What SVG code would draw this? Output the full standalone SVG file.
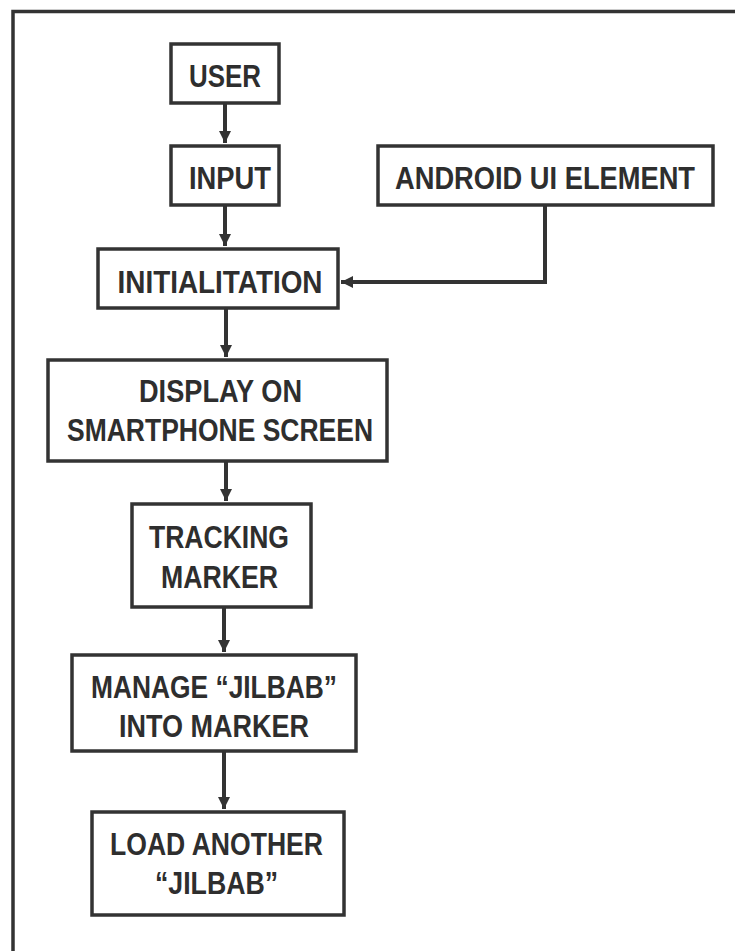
<svg xmlns="http://www.w3.org/2000/svg" width="735" height="951" viewBox="0 0 735 951">
<style>
.box{fill:#fff;stroke:#333;stroke-width:3.5}
.t{font-family:"Liberation Sans",Arial,sans-serif;font-weight:bold;font-size:32px;fill:#2e2e2e;text-anchor:middle}
.c{fill:none;stroke:#333;stroke-width:4}
</style>
<defs>
<marker id="ah" viewBox="0 0 10 10" refX="10" refY="5" markerWidth="3" markerHeight="3" orient="auto" markerUnits="strokeWidth">
<path d="M0,0 L10,5 L0,10 z" fill="#333"/>
</marker>
</defs>
<rect width="735" height="951" fill="#fff"/>
<path d="M740 11.5 H13 V951" fill="none" stroke="#333" stroke-width="3.5"/>
<g id="connectors">
<line class="c" x1="225" y1="103" x2="225" y2="143" marker-end="url(#ah)"/>
<line class="c" x1="225" y1="205" x2="225" y2="246" marker-end="url(#ah)"/>
<polyline class="c" points="545,205 545,282 341,282" marker-end="url(#ah)"/>
<line class="c" x1="226" y1="308" x2="226" y2="357" marker-end="url(#ah)"/>
<line class="c" x1="226" y1="461" x2="226" y2="501" marker-end="url(#ah)"/>
<line class="c" x1="224" y1="607" x2="224" y2="652" marker-end="url(#ah)"/>
<line class="c" x1="224" y1="751" x2="224" y2="809" marker-end="url(#ah)"/>
</g>
<g id="user"><rect class="box" x="171" y="44" width="108" height="59"/><text class="t" x="225" y="87" textLength="72" lengthAdjust="spacingAndGlyphs">USER</text></g>
<g id="input"><rect class="box" x="171" y="146" width="108" height="59"/><text class="t" x="230" y="189" textLength="82" lengthAdjust="spacingAndGlyphs">INPUT</text></g>
<g id="android"><rect class="box" x="378" y="146" width="335" height="59"/><text class="t" x="545" y="189" textLength="300" lengthAdjust="spacingAndGlyphs">ANDROID UI ELEMENT</text></g>
<g id="init"><rect class="box" x="98" y="249" width="240" height="59"/><text class="t" x="220" y="293" textLength="205" lengthAdjust="spacingAndGlyphs">INITIALITATION</text></g>
<g id="display"><rect class="box" x="48" y="360" width="339" height="101"/><text class="t" x="220.5" y="402" textLength="163" lengthAdjust="spacingAndGlyphs">DISPLAY ON</text><text class="t" x="220" y="441" textLength="306" lengthAdjust="spacingAndGlyphs">SMARTPHONE SCREEN</text></g>
<g id="tracking"><rect class="box" x="132" y="504" width="179" height="103"/><text class="t" x="219" y="548" textLength="140" lengthAdjust="spacingAndGlyphs">TRACKING</text><text class="t" x="219.5" y="588" textLength="117" lengthAdjust="spacingAndGlyphs">MARKER</text></g>
<g id="manage"><rect class="box" x="72" y="655" width="284" height="96"/><text class="t" x="214" y="698" textLength="246" lengthAdjust="spacingAndGlyphs">MANAGE “JILBAB”</text><text class="t" x="214" y="737" textLength="190" lengthAdjust="spacingAndGlyphs">INTO MARKER</text></g>
<g id="load"><rect class="box" x="92" y="812" width="252" height="103"/><text class="t" x="216.5" y="855" textLength="213" lengthAdjust="spacingAndGlyphs">LOAD ANOTHER</text><text class="t" x="216.5" y="894" textLength="123" lengthAdjust="spacingAndGlyphs">“JILBAB”</text></g>
</svg>
